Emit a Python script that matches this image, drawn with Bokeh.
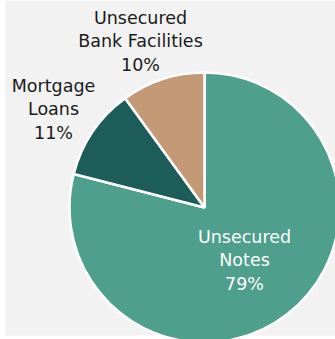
import math
from bokeh.plotting import figure
from bokeh.models import Range1d, ColumnDataSource
from bokeh.core.properties import value
from bokeh.embed import file_html
from bokeh.resources import INLINE

categories = ["Unsecured\nNotes", "Mortgage\nLoans", "Unsecured\nBank Facilities"]
shares = [79, 11, 10]
pct_labels = ["79%", "11%", "10%"]
colors = ["#4e9f8b", "#1d5d59", "#c39a75"]
label_colors = ["#ffffff", "#1a1a1a", "#1a1a1a"]

W, H = 335, 339
cx, cy, r = 204, H - 207, 135

total = sum(shares)
cum = 0
starts, ends = [], []
for s in shares:
    a0 = cum / total
    cum += s
    a1 = cum / total
    starts.append(math.pi / 2 - 2 * math.pi * a1)
    ends.append(math.pi / 2 - 2 * math.pi * a0)

src = ColumnDataSource(dict(start=starts, end=ends, color=colors))

p = figure(width=W, height=H, output_backend="svg", toolbar_location=None,
           x_range=Range1d(0, W), y_range=Range1d(0, H), min_border=0,
           background_fill_color="#ffffff", border_fill_color="#ffffff")
p.axis.visible = False
p.grid.visible = False
p.outline_line_color = None

p.quad(left=5, right=W, bottom=4, top=H, fill_color="#f2f2f2", line_color=None)

p.wedge(x=cx, y=cy, radius=r, start_angle="start", end_angle="end",
        fill_color="color", line_color="#ffffff", line_width=2.5, source=src)

lx = [244, 53, 140]
ly = [H - 260, H - 109, H - 41]
texts = [c + "\n" + pl for c, pl in zip(categories, pct_labels)]
p.text(x=lx, y=ly, text=texts, text_color=label_colors,
       text_font=value("DejaVu Sans"), text_font_size="17.5px",
       text_align="center", text_baseline="middle", text_line_height=1.16)

open("out.html", "w").write(file_html(p, INLINE))
